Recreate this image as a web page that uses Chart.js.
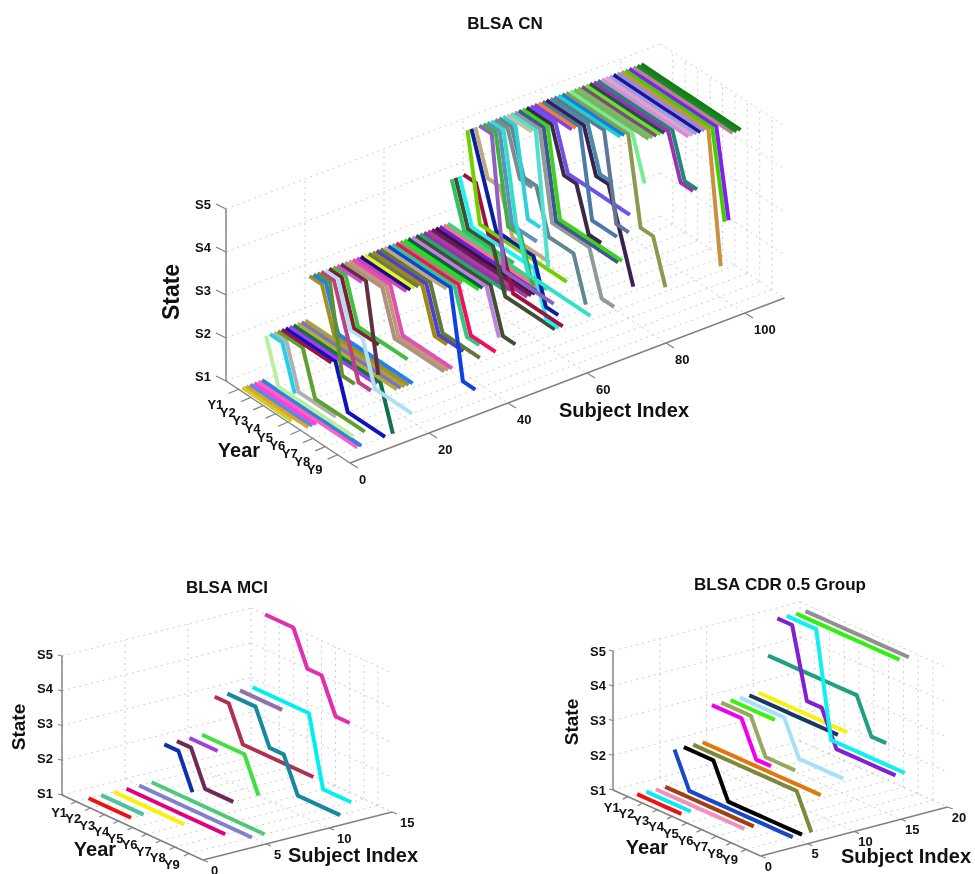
<!DOCTYPE html>
<html>
<head>
<meta charset="utf-8">
<title>BLSA state trajectories</title>
<script src="https://cdn.jsdelivr.net/npm/chart.js@4"></script>
<style>
  html, body { margin: 0; padding: 0; background: #fff; }
  #page { position: relative; width: 975px; height: 874px; overflow: hidden; }
  #page div { position: absolute; }
</style>
</head>
<body>
<div id="page">
  <div id="boxCN" style="left:140px;top:0;width:680px;height:500px"><canvas id="chartCN"></canvas></div>
  <div id="boxMCI" style="left:0;top:570px;width:440px;height:304px"><canvas id="chartMCI"></canvas></div>
  <div id="boxCDR" style="left:550px;top:570px;width:425px;height:304px"><canvas id="chartCDR"></canvas></div>
</div>
<script>
var yearLabels = ["Y1", "Y2", "Y3", "Y4", "Y5", "Y6", "Y7", "Y8", "Y9"];
var stateLabels = ["S1", "S2", "S3", "S4", "S5"];

// one row per subject (subject index = row number), state at each year from Y1
var cnStates = [
  [1,1,1,1,1],
  [1,1,1,1,1,1],
  [1,1,1,1,1,1],
  [1,1,1,1,1,1],
  [1,1,1,1,1,1,1,1,1],
  [1,1,1,1,1,1,1,1,1],
  [2,1,1,1,1,1,1,1],
  [2,2,1],
  [2,2,1,1,1,1],
  [2,2,2,1,1,1,1,1],
  [2,2,2,2,2],
  [2,2,2,2,2,1,1,1,1],
  [2,2,2,2,2,2,2,2],
  [2,2,2,2,2,2,2,2,1],
  [2,2,2,2,2,2,2,2,2],
  [2,2,2,2,2,2,2,2,2],
  [2,2,2,2,2,2,2,2,2],
  [3,3,2,2,2,2,2,2,2],
  [3,3,2,2,2,2,2,2,2],
  [3,3,1,1],
  [3,3,2,1,1],
  [3,3,2,2,1,1,1,1],
  [3,3,2,2,2],
  [3,3,2,2,2,2,2],
  [3,3,3],
  [3,3,3,1],
  [3,3,3,3,2,2,2,2,2],
  [3,3,3,3,2,2,2,2,2],
  [3,3,3,3,2,2,2,2,2],
  [3,3,3,3,3],
  [3,3,3,3,3],
  [3,3,3,3,3],
  [3,3,3,3,3],
  [3,3,3,3,3,2,2],
  [3,3,3,3,3,2,2,2],
  [3,3,3,3,3,2,2,2,2],
  [3,3,3,3,3,3],
  [3,3,3,3,3,3,1,1],
  [3,3,3,3,3,3,2,2],
  [3,3,3,3,3,3,2,2,2],
  [3,3,3,3,3,3],
  [3,3,3,3,3,3,3],
  [3,3,3,3,3,3,3],
  [3,3,3,3,3,3,3,2],
  [3,3,3,3,3,3,3,2,2],
  [3,3,3,3,3,3,3,3],
  [3,3,3,3,3,3,3,3],
  [3,3,3,3,3,3,3,3,3],
  [3,3,3,3,3,3,3,3,3],
  [3,3,3,3,3,3,3,3,3],
  [3,3,3,3,3,3,3,3,3],
  [3,3,3,3,3,3,3,3,3],
  [3,3,3,3,3,3,3,3,3],
  [4,3,3,3,3,3],
  [4,3,3,3,2,2,2,2,2],
  [4,3,3,3,3,3,3,2,2],
  [4,4,3,3,2,2,2,2,2],
  [5,3,3,3,3,3,3,3,3],
  [5,4,3,3,3,3,2,2],
  [5,4,4,3,3,3,3],
  [5,5,2,2,2,2,2],
  [5,5,3,3,2],
  [5,5,3,3,3],
  [5,5,3,2,2,2,2,2,2],
  [5,5,4,4],
  [5,5,4,4,3,3,3,2],
  [5,5,3,3],
  [5,5,5],
  [5,5,5,2],
  [5,5,5,3,3,3,3,2,2],
  [5,5,5,3,3,3,3,3,3],
  [5,5,5,3,3,3,3,3,3],
  [5,5,5,4,4,3,3],
  [5,5,5,4,4,4,4,4,4],
  [5,5,5,5],
  [5,5,5,5],
  [5,5,5,5,3,3,3],
  [5,5,5,5,4,4,3,2],
  [5,5,5,5,4,4],
  [5,5,5,5,5,3,3],
  [5,5,5,5,5,5],
  [5,5,5,5,5,5],
  [5,5,5,5,5,5,3,3,2],
  [5,5,5,5,5,5,4],
  [5,5,5,5,5,5,5],
  [5,5,5,5,5,5,5],
  [5,5,5,5,5,5,5],
  [5,5,5,5,5,5,5],
  [5,5,5,5,5,5,5],
  [5,5,5,5,5,5,5,4,4],
  [5,5,5,5,5,5,5,4,4],
  [5,5,5,5,5,5,5,5],
  [5,5,5,5,5,5,5,5],
  [5,5,5,5,5,5,5,5],
  [5,5,5,5,5,5,5,5],
  [5,5,5,5,5,5,5,5],
  [5,5,5,5,5,5,5,5,2],
  [5,5,5,5,5,5,5,5,3],
  [5,5,5,5,5,5,5,5,3],
  [5,5,5,5,5,5,5,5,5],
  [5,5,5,5,5,5,5,5,5],
  [5,5,5,5,5,5,5,5,5]
];
var cnColors = [
  "#c8d030","#e8a020","#5090e0","#ff40e0","#ff60c0","#3080e0","#b8f0a0","#20d0e8","#b0b0b0","#60a030",
  "#a01040","#1010c0","#a040e0","#107050","#b0b030","#8070c0","#a8a040","#a09020","#2080f0","#609030",
  "#c04080","#b0e0f0","#802030","#40c040","#d050d0","#603040","#b09080","#c09878","#e050b0","#d040c0",
  "#101080","#f0f020","#608050","#a08810","#5040d0","#607838","#c0a880","#1040e0","#30c880","#f01060",
  "#80a060","#20e020","#106040","#c080e0","#405030","#20a878","#a030a0","#a040a0","#701860","#401040",
  "#7020e0","#f07880","#40d080","#30c060","#405030","#20f0f0","#a01040","#70d000","#0820a0","#c0a880",
  "#9060c0","#40b040","#6090c0","#30e0c8","#808890","#608890","#30d0d8","#c8c0a0","#50e0d0","#909a98",
  "#405890","#40d020","#3a2a48","#7050e8","#8040f0","#f08030","#4a7aa8","#382050","#4a8aa8","#607898",
  "#20d0c0","#1080e0","#8a9a50","#70f090","#80b060","#70c060","#804880","#70e020","#205050","#a030b0",
  "#208878","#d090d8","#e0a0d0","#a0a0e0","#2010a0","#9090d8","#c89040","#40d000","#8020f0","#b08888",
  "#208030","#108010"
];

var mciStates = [
  [1,1,1,1],
  [1,1,1,1],
  [1,1,1,1,1,1],
  [1,1,1,1,1,1,1,1],
  [1,1,1,1,1,1,1,1,1],
  [1,1,1,1,1,1,1,1,1],
  [2,2,1],
  [2,2,1,1,1],
  [2,2,2],
  [2,2,2,2,1],
  [3,3,2,2,2,2,2,2],
  [3,3,3,2,2,1,1,1,1],
  [3,3,3,3],
  [3,3,3,3,3,1,1,1],
  [5,5,5,4,4,3,3]
];
var mciColors = ["#f01010","#50c0a0","#f8f010","#e00080","#8080d0","#50c878","#1030b0","#702858",
  "#a040d8","#40e040","#b03050","#1888a0","#9070b0","#00f0f0","#e030b0"];

var cdrStates = [
  [1,1,1,1],
  [1,1,1,1],
  [1,1,1,1,1,1,1],
  [1,1,1,1,1,1,1],
  [2,1,1,1,1,1,1,1,1],
  [2,2,2,1,1,1,1,1,1],
  [2,2,2,2,2,2,2,2,1],
  [2,2,2,2,2,2,2,2,2],
  [3,3,3,2,2],
  [3,3,3,2,2,2],
  [3,3,3,3],
  [3,3,3,3,2,2,2,2],
  [3,3,3,3,3,3,3],
  [3,3,3,3,3,3,3],
  [4,4,4,4,4,4,4,3,3],
  [5,5,3,3,2,2,2,2,2],
  [5,5,5,2,2,2,2,2,2],
  [5,5,5,5,5,5,5,5],
  [5,5,5,5,5,5,5,5]
];
var cdrColors = ["#f01010","#10e8f0","#f090c0","#a04010","#1848c8","#000000","#808838","#e07810",
  "#f000f0","#98a860","#40f010","#a8e0f8","#183860","#f8f010","#20a080","#8020d0","#10f0f0","#30f010","#909090"];

var cnTicks = [0, 20, 40, 60, 80, 100];
var mciTicks = [0, 5, 10, 15];
var cdrTicks = [0, 5, 10, 15, 20];

// page position of a (subject, year, state) point for a panel's view
function project(p, s, yr, st) {
  return {
    x: p.ox + p.sx * s + p.yx * yr,
    y: p.oy + p.sy * s + p.yy * yr - p.zy * (st - 1)
  };
}

function segment(p, a, b, color, width, dash, order) {
  return {
    data: [project(p, a[0], a[1], a[2]), project(p, b[0], b[1], b[2])],
    showLine: true, pointRadius: 0, borderColor: color, borderWidth: width,
    borderDash: dash, order: order, clip: false
  };
}

function tickMark(p, s, yr, st, d, order) {
  var a = project(p, s, yr, st);
  return {
    data: [a, { x: a.x + d[0], y: a.y + d[1] }],
    showLine: true, pointRadius: 0, borderColor: "#808080", borderWidth: 1.2, order: order, clip: false
  };
}

function buildDatasets(p) {
  var sets = [];
  var dots = [2, 4];
  var grid = "#cccccc";
  var top = 5;
  for (var st = 1; st <= top; st++) {
    sets.push(segment(p, [0, 0, st], [p.smax, 0, st], grid, 1, dots, 1000));
    sets.push(segment(p, [p.smax, 0, st], [p.smax, 10, st], grid, 1, dots, 1000));
  }
  p.ticks.forEach(function (s) {
    sets.push(segment(p, [s, 0, 1], [s, 0, top], grid, 1, dots, 1000));
    sets.push(segment(p, [s, 0, 1], [s, 10, 1], grid, 1, dots, 1000));
  });
  yearLabels.forEach(function (y, i) {
    sets.push(segment(p, [0, i + 1, 1], [p.smax, i + 1, 1], grid, 1, dots, 1000));
    sets.push(segment(p, [p.smax, i + 1, 1], [p.smax, i + 1, top], grid, 1, dots, 1000));
  });

  // solid axes and tick marks
  sets.push(segment(p, [0, 0, 1], [0, 0, top], "#808080", 1.4, [], 900));
  sets.push(segment(p, [0, 0, 1], [0, 10, 1], "#808080", 1.4, [], 900));
  sets.push(segment(p, [0, 10, 1], [p.smax, 10, 1], "#808080", 1.4, [], 900));
  stateLabels.forEach(function (t, i) {
    sets.push(tickMark(p, 0, 0, i + 1, p.zTick, 900));
  });
  yearLabels.forEach(function (t, i) {
    sets.push(tickMark(p, 0, i + 1, 1, p.yTick, 900));
  });
  p.ticks.forEach(function (s) {
    sets.push(tickMark(p, s, 10, 1, p.sTick, 900));
  });

  // subject lines, later subjects on top
  p.states.forEach(function (row, i) {
    var pts = row.map(function (st, j) { return project(p, i + 1, j + 1, st); });
    sets.push({
      data: pts, showLine: true, pointRadius: 0, borderColor: p.colors[i], borderWidth: p.lw,
      borderJoinStyle: "round", borderCapStyle: "butt", tension: 0, order: 500 - i, clip: false
    });
  });
  return sets;
}

var textPlugin = {
  id: "panelText",
  afterDraw: function (chart, args, opts) {
    var p = opts.panel;
    var ctx = chart.ctx;
    var X = chart.scales.x, Y = chart.scales.y;
    function put(txt, x, y, font, rot, align) {
      ctx.save();
      ctx.translate(X.getPixelForValue(x), Y.getPixelForValue(y));
      if (rot) ctx.rotate(rot);
      ctx.font = font;
      ctx.fillStyle = "#111";
      ctx.textAlign = align || "center";
      ctx.textBaseline = "middle";
      ctx.fillText(txt, 0, 0);
      ctx.restore();
    }
    var tickFont = "bold " + p.tickSize + "px 'Liberation Sans'";
    stateLabels.forEach(function (t, i) {
      var a = project(p, 0, 0, i + 1);
      put(t, a.x + p.zLab[0], a.y + p.zLab[1], tickFont);
    });
    yearLabels.forEach(function (t, i) {
      var a = project(p, 0, i + 1, 1);
      put(t, a.x + p.yLab[0], a.y + p.yLab[1], tickFont);
    });
    p.ticks.forEach(function (s) {
      var a = project(p, s, 10, 1);
      put(String(s), a.x + p.sLab[0], a.y + p.sLab[1], tickFont, 0, "left");
    });
    put(p.title, p.titlePos[0], p.titlePos[1], "bold 17px 'Liberation Sans'");
    put("State", p.statePos[0], p.statePos[1], "bold " + p.stateSize + "px 'Liberation Sans'", -Math.PI / 2);
    put("Year", p.yearPos[0], p.yearPos[1], "bold " + p.yearSize + "px 'Liberation Sans'");
    put("Subject Index", p.subjPos[0], p.subjPos[1], "bold 20px 'Liberation Sans'");
  }
};

function drawPanel(id, boxId, p) {
  var box = document.getElementById(boxId);
  var left = box.offsetLeft, top = box.offsetTop, w = box.offsetWidth, h = box.offsetHeight;
  new Chart(id, {
    type: "scatter",
    data: { datasets: buildDatasets(p) },
    options: {
      responsive: true,
      maintainAspectRatio: false,
      animation: false,
      events: [],
      layout: { padding: 0 },
      scales: {
        x: { type: "linear", display: false, min: left, max: left + w },
        y: { type: "linear", display: false, reverse: true, min: top, max: top + h }
      },
      plugins: {
        legend: { display: false },
        tooltip: { enabled: false },
        panelText: { panel: p }
      }
    },
    plugins: [textPlugin]
  });
}

drawPanel("chartCN", "boxCN", {
  states: cnStates, colors: cnColors, ticks: cnTicks, smax: 110, lw: 4,
  ox: 226, oy: 381, sx: 3.95, sy: -1.5, yx: 12.4, yy: 8.2, zy: 43,
  zTick: [-10, -5], yTick: [-10, 4.3], sTick: [8, 5],
  zLab: [-23, -4], yLab: [-23, 16], sLab: [9, 17],
  tickSize: 13,
  title: "BLSA CN", titlePos: [505, 24],
  statePos: [173, 292], stateSize: 23,
  yearPos: [239, 451], yearSize: 20,
  subjPos: [624, 411]
});

drawPanel("chartMCI", "boxMCI", {
  states: mciStates, colors: mciColors, ticks: mciTicks, smax: 15, lw: 4,
  ox: 62, oy: 795, sx: 12.6, sy: -3.2, yx: 14.1, yy: 6.5, zy: 34.75,
  zTick: [-4, -1], yTick: [-5, 2.5], sTick: [5, 2],
  zLab: [-17, -1], yLab: [-17, 11.5], sLab: [8, 11],
  tickSize: 13,
  title: "BLSA MCI", titlePos: [227, 588],
  statePos: [20, 727], stateSize: 19,
  yearPos: [95, 850], yearSize: 20,
  subjPos: [353, 856]
});

drawPanel("chartCDR", "boxCDR", {
  states: cdrStates, colors: cdrColors, ticks: cdrTicks, smax: 20, lw: 4,
  ox: 613, oy: 790, sx: 9.35, sy: -2.45, yx: 14.77, yy: 6.6, zy: 34.75,
  zTick: [-4, -1], yTick: [-5, 2.5], sTick: [5, 2],
  zLab: [-15, 1], yLab: [-16, 11.5], sLab: [4, 11],
  tickSize: 13,
  title: "BLSA CDR 0.5 Group", titlePos: [780, 585],
  statePos: [573, 722], stateSize: 19,
  yearPos: [647, 848], yearSize: 20,
  subjPos: [906, 857]
});
</script>
</body>
</html>
